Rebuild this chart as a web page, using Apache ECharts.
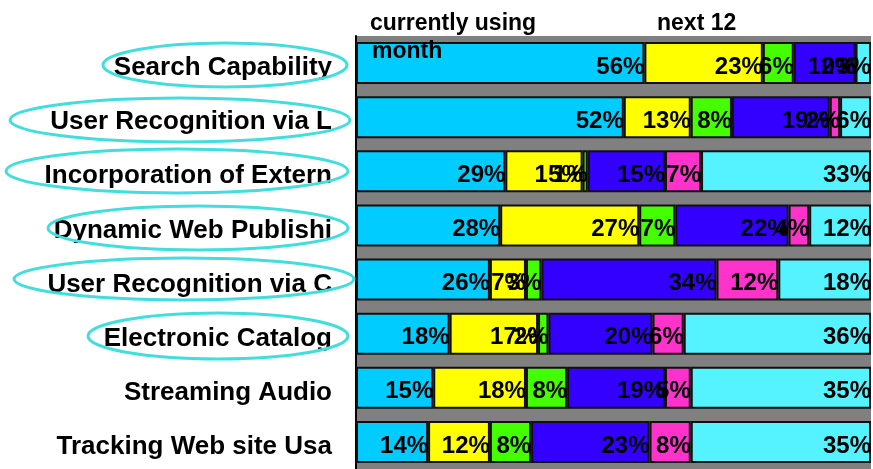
<!DOCTYPE html>
<html>
<head>
<meta charset="utf-8">
<script src="https://cdn.jsdelivr.net/npm/echarts@6/dist/echarts.min.js"></script>
<style>
  html, body { margin: 0; padding: 0; background: #fff; }
  #main { width: 873px; height: 469px; }
</style>
</head>
<body>
<div id="main"></div>
<script>
// categories, top to bottom
var categories = [
    'Search Capability',
    'User Recognition via L',
    'Incorporation of Extern',
    'Dynamic Web Publishi',
    'User Recognition via C',
    'Electronic Catalog',
    'Streaming Audio',
    'Tracking Web site Usa'
];

// series values (percent), one entry per category
var seg1 = [56, 52, 29, 28, 26, 18, 15, 14];
var seg2 = [23, 13, 15, 27, 7, 17, 18, 12];
var seg3 = [6, 8, 1, 7, 3, 2, 8, 8];
var seg4 = [12, 19, 15, 22, 34, 20, 19, 23];
var seg5 = [0, 2, 7, 4, 12, 6, 5, 8];
var seg6 = [3, 6, 33, 12, 18, 36, 35, 35];

var segColors = ['#00CCFF', '#FFFF00', '#44FF00', '#3300FF', '#FF33CC', '#55F2FF'];
var segs = [seg1, seg2, seg3, seg4, seg5, seg6];

// row totals -> 100% stacked like the original
var totals = [];
for (var i = 0; i < categories.length; i++) {
    var t = 0;
    for (var s = 0; s < segs.length; s++) t += segs[s][i];
    totals.push(t);
}

var series = [];
for (var s = 0; s < segs.length; s++) {
    var data = [];
    for (var i = 0; i < categories.length; i++) {
        data.push({ value: segs[s][i] / totals[i] * 100, raw: segs[s][i] });
    }
    series.push({
        type: 'bar',
        stack: 'all',
        barWidth: 42,
        data: data,
        itemStyle: { color: segColors[s], borderColor: '#111', borderWidth: 2 },
        label: {
            show: true,
            position: 'insideRight',
            distance: 0,
            offset: [0, 4],
            color: '#000',
            fontSize: 24,
            fontWeight: 'bold',
            fontFamily: 'Liberation Sans, Arial, sans-serif',
            formatter: function (p) { return p.data.raw + '%'; }
        },
        emphasis: { disabled: true },
        animation: false
    });
}

// annotation rings round the labels
var rings = [
    [225, 65, 122, 22],
    [180, 120, 170, 22],
    [177, 171, 171, 22],
    [198, 228, 150, 22],
    [184, 279, 170, 21],
    [218, 336, 130, 23]
];
var graphics = [];
for (var r = 0; r < rings.length; r++) {
    graphics.push({
        type: 'ellipse', z: 100,
        shape: { cx: rings[r][0], cy: rings[r][1], rx: rings[r][2], ry: rings[r][3] },
        style: { fill: null, stroke: '#44DDDD', lineWidth: 3 }
    });
}
var headStyle = { fill: '#000', font: 'bold 23px "Liberation Sans", Arial, sans-serif' };
graphics.push({ type: 'text', z: 100, left: 370, top: 12, style: ext(headStyle, { text: 'currently using' }) });
graphics.push({ type: 'text', z: 100, left: 657, top: 12, style: ext(headStyle, { text: 'next 12' }) });
graphics.push({ type: 'text', z: 100, left: 372, top: 40, style: ext(headStyle, { text: 'month' }) });

function ext(a, b) {
    var o = {};
    for (var k in a) o[k] = a[k];
    for (var k2 in b) o[k2] = b[k2];
    return o;
}

var myChart = echarts.init(document.getElementById('main'));
myChart.setOption({
    backgroundColor: '#fff',
    animation: false,
    grid: {
        left: 356, right: 2, top: 36, bottom: 0,
        show: true, backgroundColor: '#808080', borderWidth: 0
    },
    xAxis: {
        type: 'value', min: 0, max: 100,
        show: false
    },
    yAxis: {
        type: 'category',
        inverse: true,
        data: categories,
        axisLine: { show: true, lineStyle: { color: '#000', width: 2 } },
        axisTick: { show: false },
        axisLabel: {
            margin: 24,
            formatter: function (v) { return '{c|' + v + '}'; },
            rich: {
                c: {
                    padding: [10, 0, 0, 0],
                    color: '#000',
                    fontSize: 26,
                    fontWeight: 'bold',
                    fontFamily: 'Liberation Sans, Arial, sans-serif'
                }
            }
        }
    },
    series: series,
    graphic: graphics
});
</script>
</body>
</html>
